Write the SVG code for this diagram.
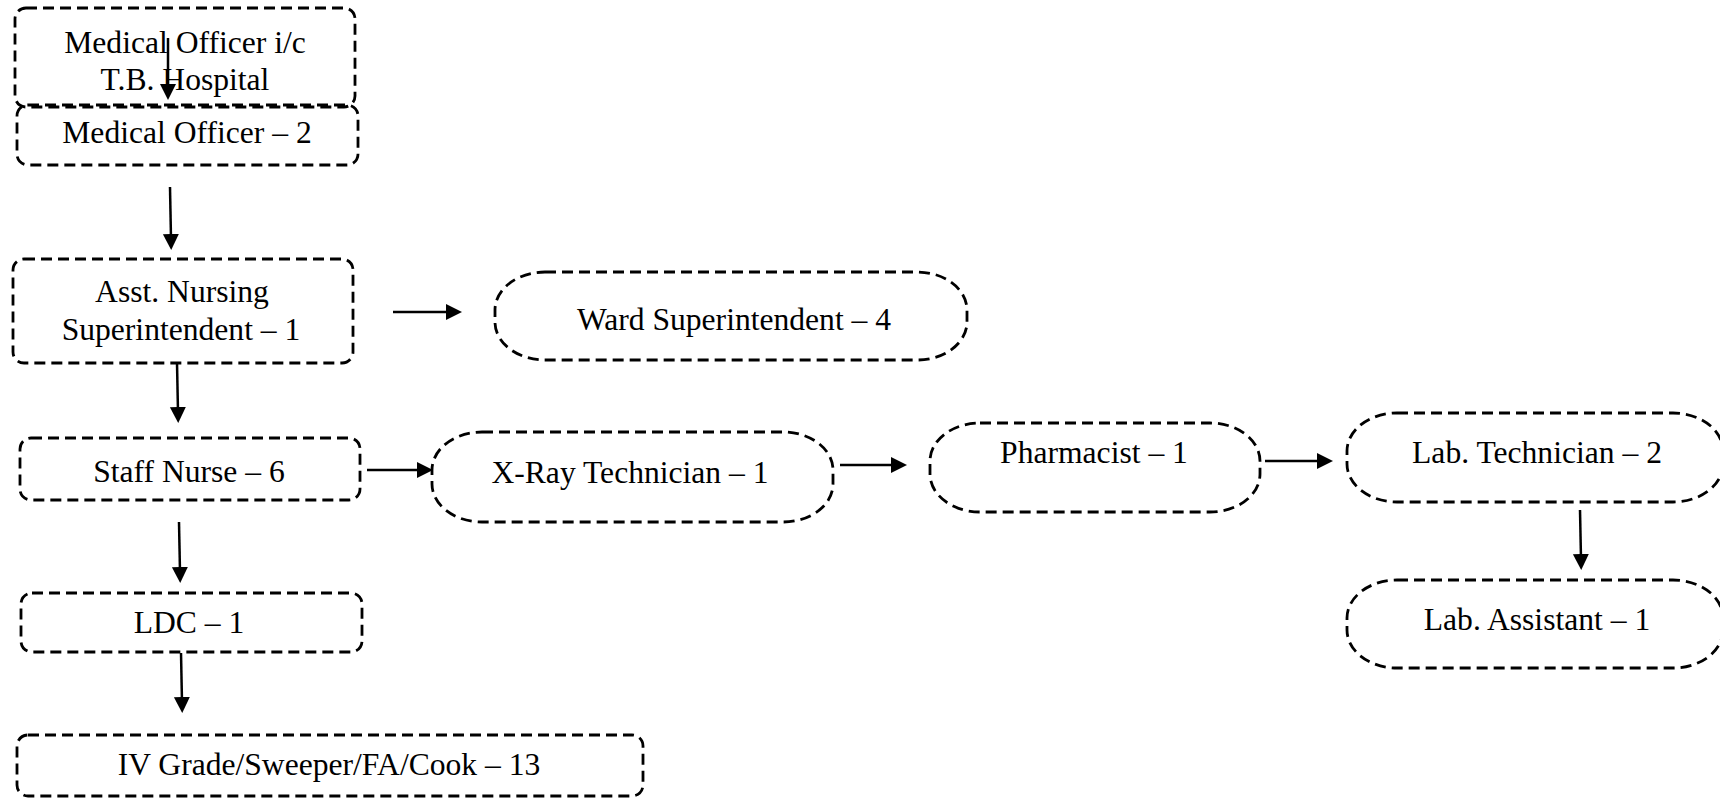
<svg xmlns="http://www.w3.org/2000/svg" width="1720" height="798" viewBox="0 0 1720 798">
<style>
.box{fill:none;stroke:#000;stroke-width:2.8;stroke-dasharray:11 6;}
.t{font-family:"Liberation Serif","Times New Roman",serif;font-size:31.6px;fill:#000;text-anchor:middle;}
.c{stroke:#000;stroke-width:2.5;fill:none;marker-end:url(#ah);}
</style>
<defs>
<marker id="ah" markerUnits="userSpaceOnUse" markerWidth="17" markerHeight="17" refX="5" refY="8" orient="auto">
<path d="M0,0 L16,8 L0,16 z" fill="#000"/>
</marker>
</defs>
<rect width="1720" height="798" fill="#fff"/>
<g id="n1">
<rect class="box" x="15" y="8" width="340" height="99" rx="11" ry="11"/>
<text class="t" x="185" y="53">Medical Officer i/c</text>
<text class="t" x="185" y="90">T.B. Hospital</text>
</g>
<g id="n2">
<rect class="box" x="17" y="105" width="341" height="60" rx="11" ry="11"/>
<text class="t" x="187" y="143">Medical Officer – 2</text>
</g>
<g id="n3">
<rect class="box" x="13" y="259" width="340" height="104" rx="11" ry="11"/>
<text class="t" x="182" y="302">Asst. Nursing</text>
<text class="t" x="181" y="340">Superintendent – 1</text>
</g>
<g id="n4">
<rect class="box" x="495" y="272" width="472" height="88" rx="50" ry="38"/>
<text class="t" x="734" y="330">Ward Superintendent – 4</text>
</g>
<g id="n5">
<rect class="box" x="20" y="438" width="340" height="62" rx="11" ry="11"/>
<text class="t" x="189" y="482">Staff Nurse – 6</text>
</g>
<g id="n6">
<rect class="box" x="432" y="432" width="401" height="90" rx="50" ry="38"/>
<text class="t" x="630" y="483">X-Ray Technician – 1</text>
</g>
<g id="n7">
<rect class="box" x="930" y="423" width="330" height="89" rx="50" ry="38"/>
<text class="t" x="1094" y="463">Pharmacist – 1</text>
</g>
<g id="n8">
<rect class="box" x="1347" y="413" width="376" height="89" rx="50" ry="38"/>
<text class="t" x="1537" y="463">Lab. Technician – 2</text>
</g>
<g id="n9">
<rect class="box" x="1347" y="580" width="376" height="88" rx="50" ry="38"/>
<text class="t" x="1537" y="630">Lab. Assistant – 1</text>
</g>
<g id="n10">
<rect class="box" x="21" y="593" width="341" height="59" rx="11" ry="11"/>
<text class="t" x="189" y="633">LDC – 1</text>
</g>
<g id="n11">
<rect class="box" x="17" y="735" width="626" height="61" rx="11" ry="11"/>
<text class="t" x="329" y="775">IV Grade/Sweeper/FA/Cook – 13</text>
</g>
<g id="connectors">
<line class="c" x1="168" y1="38" x2="168" y2="89"/>
<line class="c" x1="170" y1="187" x2="171" y2="239"/>
<line class="c" x1="393" y1="312" x2="451" y2="312"/>
<line class="c" x1="177" y1="363" x2="178" y2="412"/>
<line class="c" x1="367" y1="470" x2="422" y2="470"/>
<line class="c" x1="179" y1="522" x2="180" y2="572"/>
<line class="c" x1="181" y1="653" x2="182" y2="702"/>
<line class="c" x1="840" y1="465" x2="896" y2="465"/>
<line class="c" x1="1265" y1="461" x2="1322" y2="461"/>
<line class="c" x1="1580" y1="510" x2="1581" y2="559"/>
</g>
</svg>
